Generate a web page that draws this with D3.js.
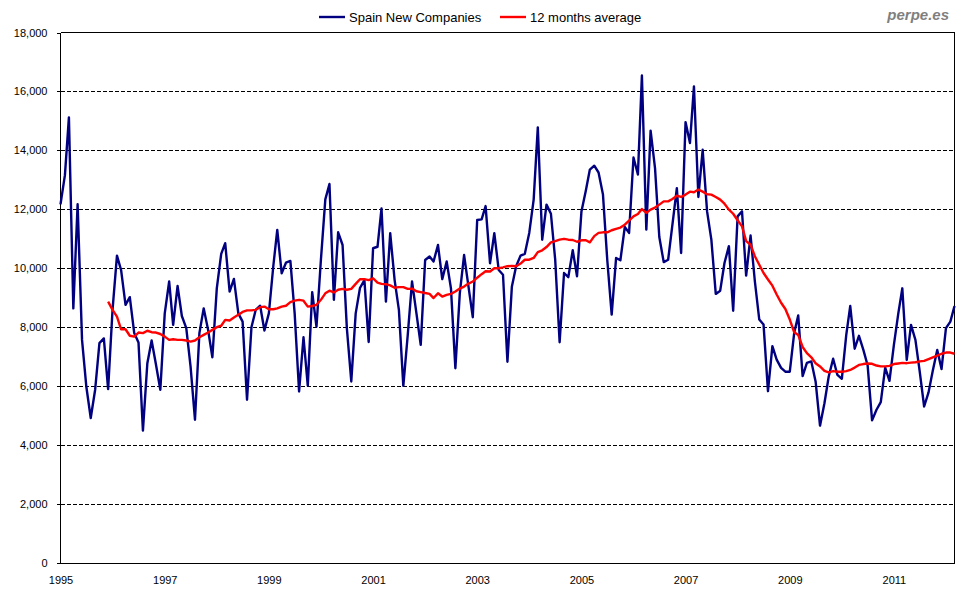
<!DOCTYPE html>
<meta charset="utf-8">
<style>
body {
  margin: 0;
  background-color: #ffffff;
  font-family: "Liberation Sans", Arial, sans-serif;
}
.axis path,
.axis line {
  fill: none;
  stroke: #000;
  shape-rendering: crispEdges;
}
.axis text {
  font-size: 11px;
  fill: #000;
}
.grid line {
  stroke: #000;
  stroke-dasharray: 4,2;
  shape-rendering: crispEdges;
}
</style>
<body>
<script src="https://cdn.jsdelivr.net/npm/d3@7"></script>
<script>
// monthly new companies, Spain, from January 1995
var startMonth = new Date(1995, 0, 1)
var newCompanies = [
  12170, 13160, 15120, 8640, 12170, 7570, 5990, 4920, 5880, 7460, 7620, 5900,
  8600, 10430, 9940, 8760, 9020, 7800, 7480, 4490, 6780, 7550, 6720, 5880,
  8470, 9550, 8080, 9400, 8380, 7970, 6670, 4860, 7800, 8640, 7910, 6980,
  9320, 10490, 10850, 9210, 9640, 8470, 8190, 5540, 8000, 8590, 8730, 7890,
  8470, 10060, 11300, 9830, 10190, 10250, 8470, 5820, 7660, 6020, 9190, 8020,
  10280, 12340, 12860, 8930, 11220, 10790, 7970, 6160, 8470, 9330, 9600, 7500,
  10680, 10730, 12030, 8870, 11190, 9600, 8590, 6010, 7740, 9550, 8470, 7400,
  10280, 10400, 10230, 10790, 9630, 10230, 9320, 6610, 9150, 10450, 9380, 8340,
  11640, 11660, 12110, 10170, 11190, 9940, 9780, 6830, 9370, 10070, 10430, 10490,
  11200, 12330, 14780, 10970, 12160, 11850, 10290, 7490, 9840, 9700, 10610, 9730,
  11930, 12640, 13350, 13480, 13250, 12500, 10290, 8430, 10350, 10270, 11400, 11200,
  13760, 13180, 16540, 11310, 14670, 13400, 11060, 10210, 10290, 11480, 12720, 10520,
  14960, 14250, 16170, 12420, 14020, 11930, 10970, 9130, 9240, 10180, 10750, 8560,
  11760, 11930, 9750, 11110, 9560, 8260, 8090, 5830, 7360, 6900, 6620, 6490,
  6490, 7810, 8400, 6340, 6790, 6840, 6160, 4660, 5420, 6330, 6930, 6380,
  6250, 7740, 8720, 7270, 7710, 7230, 6700, 4840, 5200, 5460, 6630, 6180,
  7400, 8470, 9320, 6890, 8080, 7570, 6500, 5310, 5790, 6530, 7230, 6580,
  7970, 8190, 8720
]
// 12 months average, first value is December 1995
var avgStartMonth = new Date(1995, 11, 1)
var avg12 = [
  8870,
  8590, 8360, 7930, 7930, 7710, 7680, 7820, 7800, 7880, 7830, 7820, 7770,
  7680, 7570, 7590, 7570, 7570, 7550, 7510, 7550, 7660, 7740, 7820, 7910,
  8000, 8050, 8250, 8230, 8330, 8420, 8520, 8570, 8570, 8590, 8680, 8700,
  8610, 8610, 8640, 8700, 8730, 8850, 8900, 8930, 8900, 8700, 8720, 8760,
  8930, 9150, 9240, 9180, 9270, 9300, 9270, 9300, 9470, 9630, 9630, 9600,
  9660, 9510, 9470, 9460, 9420, 9340, 9360, 9360, 9300, 9310, 9220, 9190,
  9160, 9130, 8990, 9150, 9040, 9100, 9130, 9210, 9310, 9380, 9480, 9550,
  9680, 9800, 9900, 9890, 10000, 10000, 10030, 10070, 10080, 10070, 10160, 10290,
  10290, 10350, 10550, 10610, 10720, 10880, 10920, 10970, 11000, 10970, 10960, 10900,
  10950, 10950, 10880, 11090, 11200, 11220, 11220, 11290, 11340, 11380, 11480, 11620,
  11760, 11840, 12010, 11880, 11990, 12060, 12160, 12270, 12270, 12350, 12460, 12420,
  12500, 12600, 12580, 12670, 12600, 12510, 12500, 12420, 12330, 12190, 11990, 11850,
  11630, 11420, 10920, 10800, 10410, 10120, 9840, 9620, 9410, 9110, 8830, 8620,
  8260, 7830, 7740, 7330, 7120, 6980, 6780, 6670, 6520, 6470, 6510, 6490,
  6490, 6510, 6550, 6630, 6720, 6750, 6770, 6760, 6700, 6670, 6670, 6690,
  6750, 6770, 6790, 6780, 6800, 6810, 6840, 6860, 6920, 6980, 7040, 7100,
  7140, 7140, 7100
]
var yTicks = [0, 2000, 4000, 6000, 8000, 10000, 12000, 14000, 16000, 18000]
var xTickYears = [1995, 1997, 1999, 2001, 2003, 2005, 2007, 2009, 2011]
var seriesNames = ['Spain New Companies', '12 months average']
var seriesColors = ['#000080', '#ff0000']

function toPoints (values, start) {
  return values.map(function (v, i) {
    return { date: d3.timeMonth.offset(start, i), value: v }
  })
}

var width = 980
var height = 600
var margin = { top: 32.5, right: 25.5, bottom: 37, left: 60.5 }
var plotW = width - margin.left - margin.right
var plotH = height - margin.top - margin.bottom

var blue = toPoints(newCompanies, startMonth)
var red = toPoints(avg12, avgStartMonth)

var x = d3.scaleTime()
  .domain([startMonth, blue[blue.length - 1].date])
  .range([0, plotW])

var y = d3.scaleLinear()
  .domain([0, 18000])
  .range([plotH, 0])

var svg = d3.select('body').append('svg')
  .attr('width', width)
  .attr('height', height)

var main = svg.append('g')
  .attr('transform', 'translate(' + margin.left + ',' + margin.top + ')')

// dashed gridlines
main.append('g')
  .attr('class', 'grid')
  .selectAll('line')
  .data(yTicks.filter(function (t) { return t > 0 && t < 18000 }))
  .enter()
  .append('line')
  .attr('x1', 0)
  .attr('x2', plotW)
  .attr('y1', function (d) { return Math.round(y(d)) })
  .attr('y2', function (d) { return Math.round(y(d)) })

// frame: top and right
main.append('path')
  .attr('d', 'M0,' + y(18000) + 'H' + plotW + 'V' + plotH)
  .attr('fill', 'none')
  .attr('stroke', '#000')
  .attr('shape-rendering', 'crispEdges')

// y axis
main.append('g')
  .attr('class', 'axis')
  .call(d3.axisLeft(y)
    .tickValues(yTicks)
    .tickSize(4)
    .tickPadding(9)
    .tickFormat(d3.format(',')))
  .call(function (g) { g.select('.domain').attr('d', 'M0,0V' + plotH) })

// x axis, labels on odd years
main.append('g')
  .attr('class', 'axis')
  .attr('transform', 'translate(0,' + plotH + ')')
  .call(d3.axisBottom(x)
    .tickValues(xTickYears.map(function (yr) { return new Date(yr, 0, 1) }))
    .tickSize(0)
    .tickPadding(13)
    .tickFormat(d3.timeFormat('%Y')))
  .call(function (g) { g.select('.domain').attr('d', 'M0,0H' + plotW) })

var line = d3.line()
  .x(function (d) { return x(d.date) })
  .y(function (d) { return y(d.value) })

main.append('path')
  .datum(blue)
  .attr('fill', 'none')
  .attr('stroke', seriesColors[0])
  .attr('stroke-width', 2.4)
  .attr('stroke-linejoin', 'round')
  .attr('d', line)

main.append('path')
  .datum(red)
  .attr('fill', 'none')
  .attr('stroke', seriesColors[1])
  .attr('stroke-width', 2.4)
  .attr('stroke-linejoin', 'round')
  .attr('d', line)

// legend
var legendX = [319, 500]
var legend = svg.append('g')
  .selectAll('g')
  .data(seriesNames)
  .enter()
  .append('g')
  .attr('transform', function (d, i) { return 'translate(' + legendX[i] + ',17)' })

legend.append('line')
  .attr('x1', 0)
  .attr('x2', 26)
  .attr('stroke', function (d, i) { return seriesColors[i] })
  .attr('stroke-width', 2.4)

legend.append('text')
  .attr('x', 30)
  .attr('dy', '0.35em')
  .style('font-size', '13px')
  .style('fill', '#000')
  .text(function (d) { return d })

svg.append('text')
  .attr('x', 949)
  .attr('y', 20)
  .style('text-anchor', 'end')
  .style('font-size', '15px')
  .style('font-weight', 'bold')
  .style('font-style', 'italic')
  .style('fill', '#7f7f7f')
  .text('perpe.es')
</script>
</body>
